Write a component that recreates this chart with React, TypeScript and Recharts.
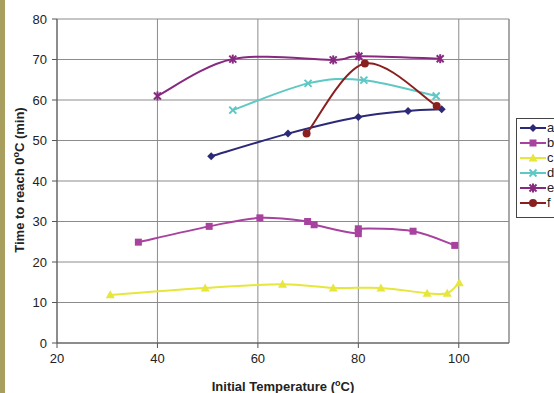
import React from "react";
import { LineChart, Line, XAxis, YAxis, CartesianGrid, ReferenceLine } from "recharts";

const seriesNames = ["a", "b", "c", "d", "e", "f"];

const aX = [50.7, 66.0, 80.0, 89.9, 96.6];
const aY = [46.1, 51.7, 55.8, 57.3, 57.7];

const bX = [36.2, 50.3, 60.4, 69.9, 71.2, 80.0, 80.0, 90.9, 99.2];
const bY = [24.9, 28.8, 30.9, 30.0, 29.2, 27.0, 28.2, 27.6, 24.1];

const cX = [30.6, 49.5, 64.9, 75.0, 84.5, 93.7, 97.7, 100.1];
const cY = [11.9, 13.6, 14.5, 13.6, 13.6, 12.3, 12.3, 14.9];

const dX = [55.0, 70.0, 81.1, 95.5];
const dY = [57.5, 64.1, 64.9, 61.0];

const eX = [40.0, 55.0, 75.0, 80.1, 96.3];
const eY = [61.0, 70.1, 69.9, 70.8, 70.2];

const fX = [69.7, 81.3, 95.6];
const fY = [51.7, 69.0, 58.5];

const xTicks = [20, 40, 60, 80, 100];
const yTicks = [0, 10, 20, 30, 40, 50, 60, 70, 80];

const colors = ["#2c2a78", "#a8429f", "#e6e63c", "#5ec8c4", "#86297f", "#8a1f1f"];
const markers = ["diamond", "square", "triangle", "x", "star", "circle"];

const zip = (xs: number[], ys: number[]) => xs.map((x, i) => ({ x, y: ys[i] }));
const allData = [zip(aX, aY), zip(bX, bY), zip(cX, cY), zip(dX, dY), zip(eX, eY), zip(fX, fY)];

// Spreadsheet-style smoothed line (uniform Catmull-Rom as cubic Béziers)
function smoothCurve(context: any) {
  let pts: number[][] = [];
  return {
    areaStart() {},
    areaEnd() {},
    lineStart() {
      pts = [];
    },
    lineEnd() {
      if (!pts.length) return;
      context.moveTo(pts[0][0], pts[0][1]);
      for (let i = 0; i < pts.length - 1; i++) {
        const p0 = pts[i - 1] || pts[i];
        const p1 = pts[i];
        const p2 = pts[i + 1];
        const p3 = pts[i + 2] || pts[i + 1];
        const c1x = p1[0] + (p2[0] - p0[0]) / 6;
        const c1y = p1[1] + (p2[1] - p0[1]) / 6;
        const c2x = p2[0] - (p3[0] - p1[0]) / 6;
        const c2y = p2[1] - (p3[1] - p1[1]) / 6;
        context.bezierCurveTo(c1x, c1y, c2x, c2y, p2[0], p2[1]);
      }
    },
    point(x: number, y: number) {
      pts.push([+x, +y]);
    },
  };
}

function Marker({ kind, cx, cy, color }: { kind: string; cx: number; cy: number; color: string }) {
  switch (kind) {
    case "diamond":
      return <polygon points={`${cx},${cy - 4} ${cx + 4},${cy} ${cx},${cy + 4} ${cx - 4},${cy}`} fill={color} />;
    case "square":
      return <rect x={cx - 3.5} y={cy - 3.5} width={7} height={7} fill={color} />;
    case "triangle":
      return <polygon points={`${cx},${cy - 4.5} ${cx + 4.5},${cy + 3.5} ${cx - 4.5},${cy + 3.5}`} fill={color} />;
    case "x":
      return (
        <g stroke={color} strokeWidth={2}>
          <line x1={cx - 3.5} y1={cy - 3.5} x2={cx + 3.5} y2={cy + 3.5} />
          <line x1={cx - 3.5} y1={cy + 3.5} x2={cx + 3.5} y2={cy - 3.5} />
        </g>
      );
    case "star":
      return (
        <g stroke={color} strokeWidth={2}>
          <line x1={cx - 3.5} y1={cy - 3.5} x2={cx + 3.5} y2={cy + 3.5} />
          <line x1={cx - 3.5} y1={cy + 3.5} x2={cx + 3.5} y2={cy - 3.5} />
          <line x1={cx} y1={cy - 4.5} x2={cx} y2={cy + 4.5} />
        </g>
      );
    default:
      return <circle cx={cx} cy={cy} r={4} fill={color} />;
  }
}

const FONT = "'Liberation Sans', Arial, sans-serif";

export default function App() {
  return (
    <div
      style={{
        position: "fixed",
        left: 0,
        top: 0,
        width: 554,
        height: 393,
        background: "#ffffff",
        overflow: "hidden",
        fontFamily: FONT,
      }}
    >
      <LineChart width={554} height={393} margin={{ top: 19, right: 45, left: 12, bottom: 20 }}>
        <CartesianGrid stroke="#8c8c8c" strokeWidth={1} />
        <XAxis
          dataKey="x"
          type="number"
          domain={[20, 110]}
          ticks={xTicks}
          allowDuplicatedCategory={false}
          height={30}
          tickSize={5}
          tickMargin={6}
          stroke="#555555"
          tick={{ fill: "#222222", fontSize: 13, fontFamily: FONT }}
        />
        <YAxis
          dataKey="y"
          type="number"
          domain={[0, 80]}
          ticks={yTicks}
          width={45}
          tickSize={5}
          tickMargin={5}
          stroke="#555555"
          tick={{ fill: "#222222", fontSize: 13, fontFamily: FONT }}
        />
        <ReferenceLine x={110} stroke="#8c8c8c" strokeWidth={1} />
        {allData.map((d, i) => (
          <Line
            key={seriesNames[i]}
            data={d}
            dataKey="y"
            name={seriesNames[i]}
            type={smoothCurve as any}
            stroke={colors[i]}
            strokeWidth={2}
            isAnimationActive={false}
            dot={(p: any) => (
              <Marker key={`${i}-${p.index}`} kind={markers[i]} cx={p.cx} cy={p.cy} color={colors[i]} />
            )}
            activeDot={false}
          />
        ))}
      </LineChart>
      <svg
        width={554}
        height={393}
        style={{ position: "absolute", left: 0, top: 0, pointerEvents: "none" }}
        fontFamily={FONT}
      >
        <rect x={0} y={0} width={5} height={393} fill="#a89f5e" />
        <text x={283} y={391} textAnchor="middle" fontSize={13} fontWeight="bold" fill="#222">
          Initial Temperature (
          <tspan fontSize={9} dy={-5}>o</tspan>
          <tspan dy={5}>C)</tspan>
        </text>
        <text
          transform="translate(24,180) rotate(-90)"
          textAnchor="middle"
          fontSize={13}
          fontWeight="bold"
          fill="#222"
        >
          Time to reach 0
          <tspan fontSize={9} dy={-5}>o</tspan>
          <tspan dy={5}>C (min)</tspan>
        </text>
        <rect x={516.5} y={118.5} width={60} height={99} fill="#ffffff" stroke="#444" strokeWidth={1} />
        {seriesNames.map((n, i) => {
          const y = 128 + i * 15;
          return (
            <g key={n}>
              <line x1={520} x2={546} y1={y} y2={y} stroke={colors[i]} strokeWidth={2} />
              <Marker kind={markers[i]} cx={533} cy={y} color={colors[i]} />
              <text x={547} y={y + 4} fontSize={13} fill="#222">
                {n}
              </text>
            </g>
          );
        })}
      </svg>
    </div>
  );
}
